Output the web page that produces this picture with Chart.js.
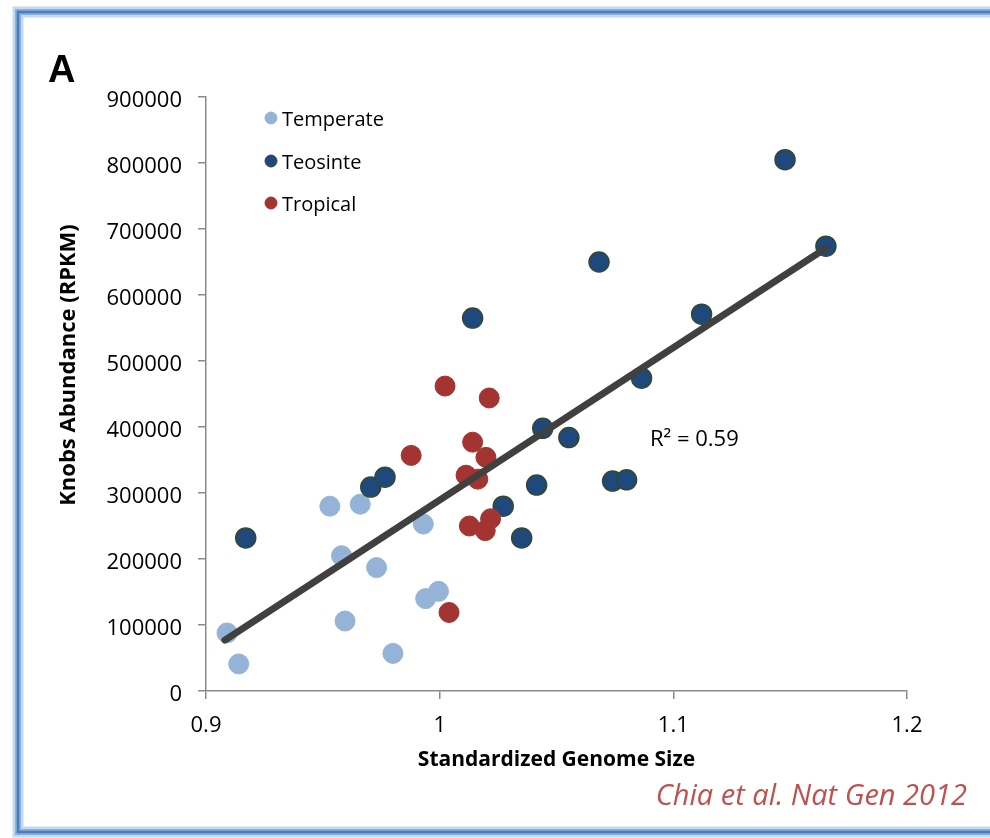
<!DOCTYPE html>
<html>
<head>
<meta charset="utf-8">
<script src="https://cdn.jsdelivr.net/npm/chart.js@4.4.1/dist/chart.umd.min.js"></script>
<style>
  html, body { margin: 0; padding: 0; background: #fff; }
  #wrap { width: 990px; height: 838px; }
</style>
</head>
<body>
<div id="wrap"><canvas id="chart" width="990" height="838"></canvas></div>
<script>
// ---- data ----
const temperateX = [0.909, 0.914, 0.953, 0.966, 0.958, 0.973, 0.9595, 0.980, 0.993, 0.994, 0.9995];
const temperateY = [88000, 41000, 280000, 283000, 205000, 187000, 106000, 57000, 253000, 140000, 151000];

const teosinteX = [0.917, 0.9705, 0.9766, 1.0141, 1.0441, 1.0415, 1.0272, 1.0351, 1.1121, 1.0864, 1.0553, 1.074, 1.080, 1.0682, 1.1478, 1.1653];
const teosinteY = [232000, 309000, 324000, 565000, 398000, 312000, 280000, 232000, 571000, 474000, 384000, 318000, 320000, 650000, 805000, 674000];

const tropicalX = [1.0023, 1.0212, 0.9878, 1.0141, 1.0198, 1.0113, 1.0163, 1.0127, 1.0218, 1.0195, 1.004];
const tropicalY = [462000, 444000, 357000, 377000, 354000, 327000, 321000, 250000, 261000, 243000, 119000];

// linear trend line end points
const trendX = [0.9081, 1.1653];
const trendY = [77000, 671000];

const xTicks = [0.9, 1.0, 1.1, 1.2];
const xTickLabels = ['0.9', '1', '1.1', '1.2'];
const yTickLabels = ['0', '100000', '200000', '300000', '400000', '500000', '600000', '700000', '800000', '900000'];

const pts = (xs, ys) => xs.map((x, i) => ({ x, y: ys[i] }));

const FONT = "'Open Sans', sans-serif";
const AXIS = '#8a8a8a';

// frame, panel letter, y title, legend, R², citation
const decor = {
  id: 'decor',
  beforeDraw(chart) {
    const ctx = chart.ctx;
    ctx.save();
    ctx.fillStyle = '#fff';
    ctx.fillRect(0, 0, chart.width, chart.height);
    ctx.strokeStyle = 'rgba(150,185,230,0.55)';
    ctx.lineWidth = 11;
    ctx.strokeRect(18, 12, 1000, 820);
    ctx.strokeStyle = 'rgba(120,165,220,0.8)';
    ctx.lineWidth = 6;
    ctx.strokeRect(18, 12, 1000, 820);
    ctx.strokeStyle = '#4a7ebb';
    ctx.lineWidth = 2.5;
    ctx.strokeRect(18, 12, 1000, 820);
    ctx.restore();
  },
  afterDraw(chart) {
    const ctx = chart.ctx;
    ctx.save();
    ctx.fillStyle = '#000';
    ctx.font = "bold 38px 'Liberation Sans', Arial, sans-serif";
    ctx.textBaseline = 'alphabetic';
    ctx.textAlign = 'left';
    ctx.fillText('A', 48, 82);

    // y axis title
    ctx.save();
    ctx.translate(69, 365);
    ctx.rotate(-Math.PI / 2);
    ctx.font = 'bold 22px ' + FONT;
    ctx.textAlign = 'center';
    ctx.textBaseline = 'middle';
    ctx.fillText('Knobs Abundance (RPKM)', 0, 0);
    ctx.restore();

    // legend
    const rows = [118, 161, 203];
    chart.data.datasets.filter(d => d.showInLegend).forEach((d, i) => {
      ctx.beginPath();
      ctx.arc(271, rows[i], 6, 0, Math.PI * 2);
      ctx.fillStyle = d.backgroundColor;
      ctx.fill();
      ctx.lineWidth = 1;
      ctx.strokeStyle = d.borderColor;
      ctx.stroke();
      ctx.fillStyle = '#000';
      ctx.font = '20px ' + FONT;
      ctx.textAlign = 'left';
      ctx.textBaseline = 'middle';
      ctx.fillText(d.label, 282, rows[i] + 2);
    });

    // R squared
    ctx.font = '22px ' + FONT;
    ctx.textBaseline = 'alphabetic';
    ctx.fillText('R\u00B2 = 0.59', 650, 446);

    // citation
    ctx.fillStyle = '#c0504d';
    ctx.font = 'italic 29px ' + FONT;
    ctx.textAlign = 'right';
    ctx.fillText('Chia et al. Nat Gen 2012', 967, 805);
    ctx.restore();
  }
};

new Chart(document.getElementById('chart'), {
  type: 'scatter',
  data: {
    datasets: [
      {
        label: 'Trend',
        type: 'line',
        data: pts(trendX, trendY),
        borderColor: '#404040',
        borderWidth: 7,
        borderCapStyle: 'round',
        pointRadius: 0,
        fill: false,
        order: 0
      },
      {
        label: 'Temperate',
        showInLegend: true,
        data: pts(temperateX, temperateY),
        backgroundColor: '#95b3d7',
        borderColor: '#95b3d7',
        borderWidth: 1,
        pointRadius: 10,
        order: 3
      },
      {
        label: 'Teosinte',
        showInLegend: true,
        data: pts(teosinteX, teosinteY),
        backgroundColor: '#1f497d',
        borderColor: '#34482f',
        borderWidth: 1.5,
        pointRadius: 10,
        order: 2
      },
      {
        label: 'Tropical',
        showInLegend: true,
        data: pts(tropicalX, tropicalY),
        backgroundColor: '#a33431',
        borderColor: '#a33431',
        borderWidth: 1,
        pointRadius: 10,
        order: 1
      }
    ]
  },
  options: {
    responsive: false,
    animation: false,
    events: [],
    layout: { padding: { left: 0, top: 97, right: 83, bottom: 0 } },
    plugins: {
      legend: { display: false },
      tooltip: { enabled: false }
    },
    scales: {
      x: {
        type: 'linear',
        min: 0.9,
        max: 1.2,
        afterBuildTicks: s => { s.ticks = xTicks.map(v => ({ value: v })); },
        ticks: {
          color: '#000',
          font: { family: FONT, size: 22 },
          padding: 14,
          maxRotation: 0,
          callback: (v, i) => xTickLabels[i]
        },
        grid: { drawOnChartArea: false, tickLength: 8, color: AXIS, lineWidth: 1.5 },
        border: { color: AXIS, width: 1.5 },
        title: {
          display: true,
          text: 'Standardized Genome Size',
          color: '#000',
          font: { family: FONT, size: 21, weight: 'bold' },
          padding: { top: 0, bottom: 65 }
        },
        afterFit: s => { s.height = 147; }
      },
      y: {
        min: 0,
        max: 900000,
        ticks: {
          stepSize: 100000,
          color: '#000',
          font: { family: FONT, size: 22 },
          padding: 16,
          labelOffset: 4,
          callback: (v, i) => yTickLabels[i]
        },
        grid: { drawOnChartArea: false, tickLength: 8, color: AXIS, lineWidth: 1.5 },
        border: { color: AXIS, width: 1.5 },
        afterFit: s => { s.width = 206; }
      }
    }
  },
  plugins: [decor]
});
</script>
</body>
</html>
